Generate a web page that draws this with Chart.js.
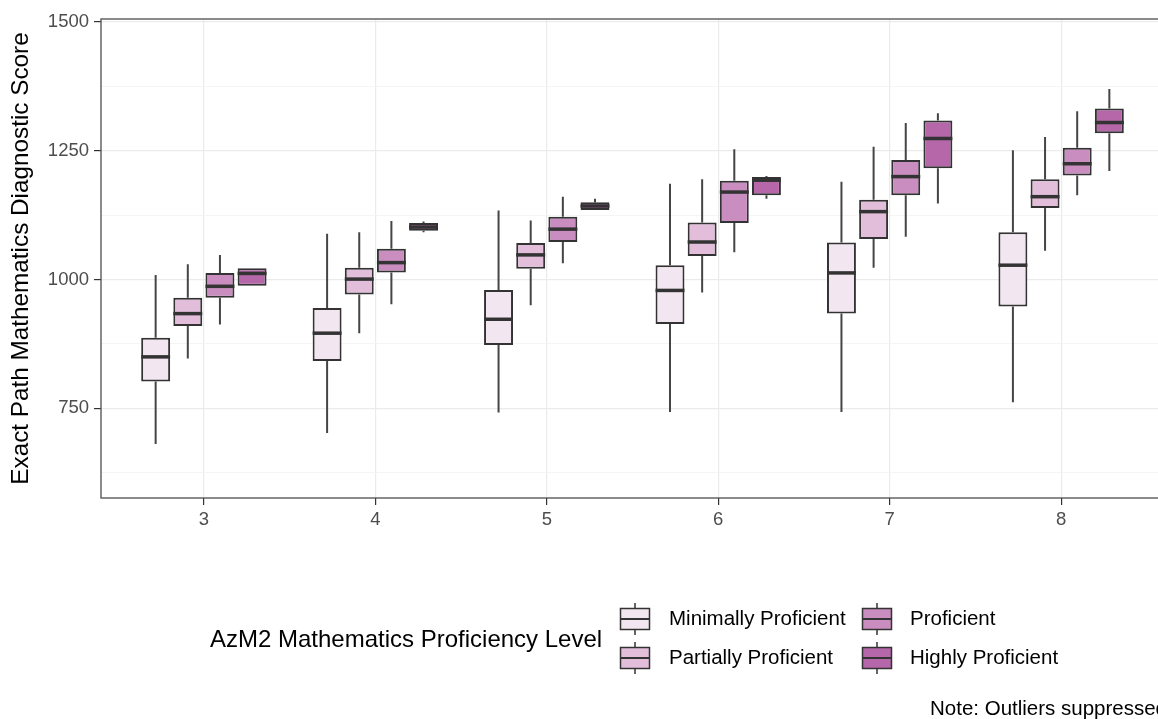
<!DOCTYPE html>
<html>
<head>
<meta charset="utf-8">
<title>Exact Path Mathematics Diagnostic Score by Grade</title>
<script src="https://cdn.jsdelivr.net/npm/chart.js@4.4.1/dist/chart.umd.min.js"></script>
<style>
    html, body { margin: 0; padding: 0; background: #ffffff; overflow: hidden; }
    #wrap { position: relative; width: 1175px; height: 719px; }
</style>
</head>
<body>
<div id="wrap"><canvas id="box_chart"></canvas></div>
<script>
var grades = [3, 4, 5, 6, 7, 8];
var levels = ['Minimally Proficient', 'Partially Proficient', 'Proficient', 'Highly Proficient'];
var levelColors = ['#f2e6f0', '#e2bedb', '#c98dbf', '#b567a9'];
var yTicks = [750, 1000, 1250, 1500];

// box stats per level, one value per grade (3 -> 8)
var minimalLow  = [681, 702, 742, 743, 743, 762];
var minimalQ1   = [802, 842, 873, 914, 934, 948];
var minimalMed  = [850, 896, 923, 979, 1013, 1028];
var minimalQ3   = [887, 945, 980, 1028, 1072, 1092];
var minimalHigh = [1009, 1089, 1134, 1186, 1190, 1251];

var partialLow  = [847, 896, 950, 975, 1023, 1056];
var partialQ1   = [910, 971, 1021, 1046, 1079, 1139];
var partialMed  = [934, 1001, 1048, 1073, 1132, 1161];
var partialQ3   = [965, 1023, 1071, 1111, 1155, 1195];
var partialHigh = [1030, 1092, 1115, 1195, 1258, 1277];

var proficientLow  = [913, 952, 1032, 1053, 1083, 1164];
var proficientQ1   = [965, 1014, 1073, 1110, 1164, 1202];
var proficientMed  = [987, 1033, 1098, 1170, 1200, 1225];
var proficientQ3   = [1013, 1060, 1122, 1192, 1232, 1256];
var proficientHigh = [1048, 1114, 1161, 1253, 1304, 1327];

var highlyLow  = [988, 1092, 1135, 1157, 1148, 1211];
var highlyQ1   = [988, 1095, 1135, 1164, 1216, 1284];
var highlyMed  = [1012, 1102, 1143, 1193, 1274, 1305];
var highlyQ3   = [1022, 1110, 1150, 1199, 1309, 1332];
var highlyHigh = [1022, 1113, 1157, 1201, 1323, 1370];

var stats = [
    {low: minimalLow, q1: minimalQ1, med: minimalMed, q3: minimalQ3, high: minimalHigh},
    {low: partialLow, q1: partialQ1, med: partialMed, q3: partialQ3, high: partialHigh},
    {low: proficientLow, q1: proficientQ1, med: proficientMed, q3: proficientQ3, high: proficientHigh},
    {low: highlyLow, q1: highlyQ1, med: highlyMed, q3: highlyQ3, high: highlyHigh}
];

var FONT = '"Liberation Sans", Arial, Helvetica, sans-serif';
var LINE = '#333333';

var datasets = levels.map(function(name, i) {
    return {
        label: name,
        data: grades.map(function(g, j) {
            return {x: g, y: [stats[i].q1[j], stats[i].q3[j]]};
        }),
        backgroundColor: levelColors[i],
        borderColor: LINE,
        borderWidth: 2,
        borderSkipped: false,
        categoryPercentage: 0.75,
        barPercentage: 0.9
    };
});

// whiskers under the boxes, medians on top
var boxParts = {
    id: 'boxParts',
    beforeDatasetsDraw: function(chart) {
        var ctx = chart.ctx;
        var y = chart.scales.y;
        ctx.save();
        ctx.strokeStyle = '#454545';
        ctx.lineWidth = 2;
        chart.data.datasets.forEach(function(ds, i) {
            chart.getDatasetMeta(i).data.forEach(function(bar, j) {
                ctx.beginPath();
                ctx.moveTo(bar.x, y.getPixelForValue(stats[i].high[j]));
                ctx.lineTo(bar.x, y.getPixelForValue(stats[i].q3[j]));
                ctx.moveTo(bar.x, y.getPixelForValue(stats[i].q1[j]));
                ctx.lineTo(bar.x, y.getPixelForValue(stats[i].low[j]));
                ctx.stroke();
            });
        });
        ctx.restore();
    },
    afterDatasetsDraw: function(chart) {
        var ctx = chart.ctx;
        var y = chart.scales.y;
        ctx.save();
        ctx.strokeStyle = LINE;
        ctx.lineWidth = 3.5;
        chart.data.datasets.forEach(function(ds, i) {
            chart.getDatasetMeta(i).data.forEach(function(bar, j) {
                var py = y.getPixelForValue(stats[i].med[j]);
                ctx.beginPath();
                ctx.moveTo(bar.x - bar.width / 2, py);
                ctx.lineTo(bar.x + bar.width / 2, py);
                ctx.stroke();
            });
        });
        ctx.restore();
    }
};

// panel border, legend block and note
var frame = {
    id: 'frame',
    afterDraw: function(chart) {
        var ctx = chart.ctx;
        var a = chart.chartArea;
        ctx.save();
        ctx.strokeStyle = '#4d4d4d';
        ctx.lineWidth = 1.3;
        ctx.strokeRect(a.left, a.top, a.right - a.left, a.bottom - a.top);

        ctx.fillStyle = '#000000';
        ctx.textBaseline = 'middle';
        ctx.textAlign = 'left';
        ctx.font = '24px ' + FONT;
        ctx.fillText('AzM2 Mathematics Proficiency Level', 210, 640);

        var keyX = [635, 635, 877, 877];
        var keyY = [619, 658, 619, 658];
        var textX = [669, 669, 910, 910];
        levels.forEach(function(name, i) {
            var cx = keyX[i], cy = keyY[i];
            ctx.strokeStyle = LINE;
            ctx.lineWidth = 1.5;
            ctx.beginPath();
            ctx.moveTo(cx, cy - 16);
            ctx.lineTo(cx, cy + 16);
            ctx.stroke();
            ctx.fillStyle = levelColors[i];
            ctx.fillRect(cx - 14.5, cy - 10.5, 29, 21);
            ctx.strokeRect(cx - 14.5, cy - 10.5, 29, 21);
            ctx.lineWidth = 2;
            ctx.beginPath();
            ctx.moveTo(cx - 14.5, cy);
            ctx.lineTo(cx + 14.5, cy);
            ctx.stroke();
            ctx.fillStyle = '#000000';
            ctx.font = '20.5px ' + FONT;
            ctx.fillText(name, textX[i], cy);
        });

        ctx.font = '20.5px ' + FONT;
        ctx.fillText('Note: Outliers suppressed', 930, 709);
        ctx.restore();
    }
};

var chart = new Chart(document.getElementById('box_chart'), {
    type: 'bar',
    data: {datasets: datasets},
    options: {
        responsive: true,
        maintainAspectRatio: false,
        animation: false,
        devicePixelRatio: 1,
        layout: {padding: {left: 0, top: 19, right: 11, bottom: 181}},
        plugins: {
            legend: {display: false},
            tooltip: {enabled: false}
        },
        scales: {
            x: {
                type: 'linear',
                min: 2.4,
                max: 8.6,
                offset: false,
                border: {display: false},
                grid: {offset: false, color: '#ebebeb', lineWidth: 1.2, tickColor: LINE, tickLength: 7},
                ticks: {
                    stepSize: 1,
                    includeBounds: false,
                    color: '#4d4d4d',
                    padding: 4,
                    font: {family: FONT, size: 18.5},
                    callback: function(v) { return grades.indexOf(v) >= 0 ? String(v) : ''; }
                },
                afterFit: function(scale) { scale.height = 40; }
            },
            y: {
                min: 576,
                max: 1506,
                border: {display: false},
                grid: {
                    color: function(c) { return yTicks.indexOf(c.tick.value) >= 0 ? '#ebebeb' : '#f3f3f3'; },
                    lineWidth: function(c) { return yTicks.indexOf(c.tick.value) >= 0 ? 1.2 : 0.8; },
                    tickColor: function(c) { return yTicks.indexOf(c.tick.value) >= 0 ? LINE : 'rgba(0,0,0,0)'; },
                    tickLength: 7
                },
                ticks: {
                    stepSize: 125,
                    includeBounds: false,
                    autoSkip: false,
                    color: '#4d4d4d',
                    padding: 5,
                    font: {family: FONT, size: 18.5},
                    callback: function(v) { return yTicks.indexOf(v) >= 0 ? String(v) : ''; }
                },
                title: {
                    display: true,
                    text: 'Exact Path Mathematics Diagnostic Score',
                    color: '#000000',
                    font: {family: FONT, size: 24.3},
                    padding: {top: 7, bottom: 0}
                },
                afterFit: function(scale) { scale.width = 101; }
            }
        }
    },
    plugins: [boxParts, frame]
});
</script>
</body>
</html>
